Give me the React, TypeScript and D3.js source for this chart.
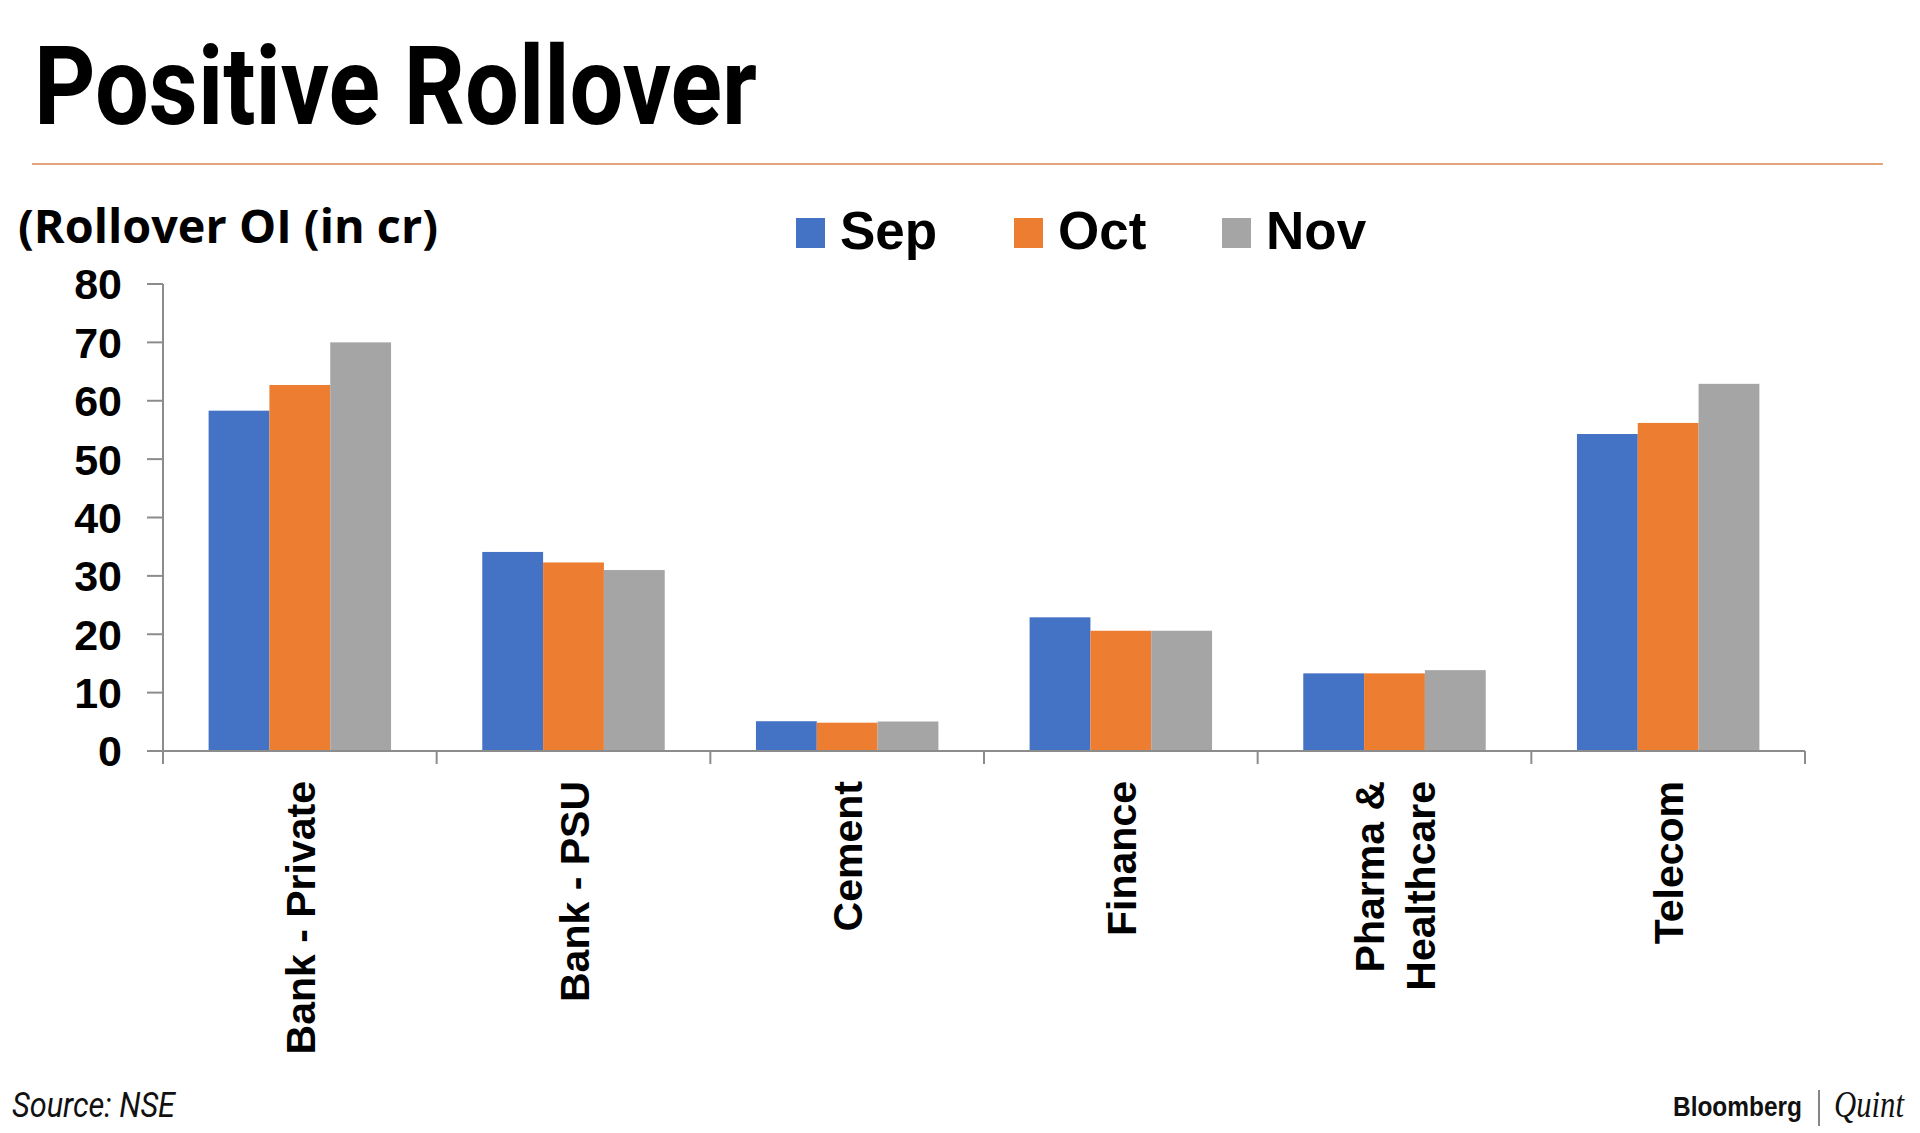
import React from "react";
import * as d3 from "d3";

const categories = ["Bank - Private", "Bank - PSU", "Cement", "Finance", "Pharma & Healthcare", "Telecom"];
const categoryLines = [["Bank - Private"], ["Bank - PSU"], ["Cement"], ["Finance"], ["Pharma &", "Healthcare"], ["Telecom"]];
const seriesNames = ["Sep", "Oct", "Nov"];
const sepValues = [58.3, 34.1, 5.1, 22.9, 13.3, 54.3];
const octValues = [62.7, 32.3, 4.85, 20.6, 13.3, 56.2];
const novValues = [70.0, 31.0, 5.05, 20.6, 13.85, 62.9];
const yTicks = [0, 10, 20, 30, 40, 50, 60, 70, 80];
const colors = ["#4472C4", "#ED7D31", "#A5A5A5"];

export default function App() {
  const W = 1920;
  const H = 1133;
  const x0 = 163;
  const x1 = 1805;
  const yBase = 751;
  const yTop = 284;
  const series = [sepValues, octValues, novValues];

  const x = d3.scaleBand<string>().domain(categories).range([x0, x1]).paddingInner(0).paddingOuter(0);
  const bw = x.bandwidth();
  const barW = bw / 4.5;
  const xs = d3
    .scaleBand<string>()
    .domain(seriesNames)
    .range([(bw - 3 * barW) / 2, (bw + 3 * barW) / 2])
    .padding(0);
  const y = d3.scaleLinear().domain([0, 80]).range([yBase, yTop]);

  const axisColor = "#8c8c8c";
  const boundaries = d3.range(categories.length + 1).map((i) => x0 + i * bw);

  return (
    <svg width={W} height={H} style={{ position: "absolute", left: 0, top: 0, background: "#fff" }}>
      <rect x={0} y={0} width={W} height={H} fill="#fff" />
      <text
        x={34}
        y={124}
        fontFamily="Roboto, sans-serif"
        fontWeight={700}
        fontSize={110}
        textLength={723}
        lengthAdjust="spacingAndGlyphs"
        fill="#000"
      >
        Positive Rollover
      </text>
      <line x1={32} x2={1883} y1={164} y2={164} stroke="#D9864F" strokeWidth={1.6} />

      <text
        x={18}
        y={243}
        fontFamily="'Open Sans', sans-serif"
        fontWeight={700}
        fontSize={47}
        textLength={420}
        lengthAdjust="spacingAndGlyphs"
        fill="#000"
      >
        (Rollover OI (in cr)
      </text>

      {seriesNames.map((s, i) => {
        const lx = [796, 1014, 1222][i];
        return (
          <g key={s}>
            <rect x={lx} y={218} width={29} height={30} fill={colors[i]} />
            <text
              x={lx + 44}
              y={249}
              fontFamily="'Liberation Sans', Arial, sans-serif"
              fontWeight={700}
              fontSize={53}
              fill="#000"
            >
              {s}
            </text>
          </g>
        );
      })}

      {series.map((vals, si) =>
        vals.map((v, ci) => (
          <rect
            key={`${si}-${ci}`}
            x={(x(categories[ci]) as number) + (xs(seriesNames[si]) as number)}
            y={y(v)}
            width={xs.bandwidth()}
            height={yBase - y(v)}
            fill={colors[si]}
          />
        ))
      )}

      <line x1={x0} x2={x0} y1={yTop} y2={yBase} stroke={axisColor} strokeWidth={2} />
      {yTicks.map((t) => (
        <g key={t}>
          <line x1={147} x2={x0} y1={y(t)} y2={y(t)} stroke={axisColor} strokeWidth={2} />
          <text
            x={122}
            y={y(t)}
            dy="0.36em"
            textAnchor="end"
            fontFamily="'Liberation Sans', Arial, sans-serif"
            fontWeight={700}
            fontSize={43}
            fill="#000"
          >
            {t}
          </text>
        </g>
      ))}
      <line x1={x0} x2={x1} y1={yBase} y2={yBase} stroke={axisColor} strokeWidth={2} />
      {boundaries.map((bx, i) => (
        <line key={i} x1={bx} x2={bx} y1={yBase} y2={yBase + 13} stroke={axisColor} strokeWidth={2} />
      ))}

      {categories.map((c, ci) => {
        const cx = (x(c) as number) + bw / 2;
        const lines = categoryLines[ci];
        const lh = 51;
        return (
          <g key={c}>
            {lines.map((ln, li) => {
              const off = (li - (lines.length - 1) / 2) * lh;
              const bx = cx + off + 15;
              return (
                <text
                  key={ln}
                  transform={`translate(${bx},781) rotate(-90)`}
                  textAnchor="end"
                  fontFamily="'Liberation Sans', Arial, sans-serif"
                  fontWeight={700}
                  fontSize={41}
                  fill="#000"
                >
                  {ln}
                </text>
              );
            })}
          </g>
        );
      })}

      <text
        x={12}
        y={1117}
        fontFamily="Roboto, sans-serif"
        fontStyle="italic"
        fontSize={35}
        textLength={163}
        lengthAdjust="spacingAndGlyphs"
        fill="#111"
      >
        Source: NSE
      </text>

      <text
        x={1673}
        y={1116}
        fontFamily="'Liberation Sans', Arial, sans-serif"
        fontWeight={700}
        fontSize={28}
        textLength={129}
        lengthAdjust="spacingAndGlyphs"
        fill="#111"
      >
        Bloomberg
      </text>
      <line x1={1819} x2={1819} y1={1090} y2={1126} stroke="#444" strokeWidth={1.3} />
      <text
        x={1834}
        y={1117}
        fontFamily="'Liberation Serif', serif"
        fontStyle="italic"
        fontSize={37}
        textLength={70}
        lengthAdjust="spacingAndGlyphs"
        fill="#111"
      >
        Quint
      </text>
    </svg>
  );
}
